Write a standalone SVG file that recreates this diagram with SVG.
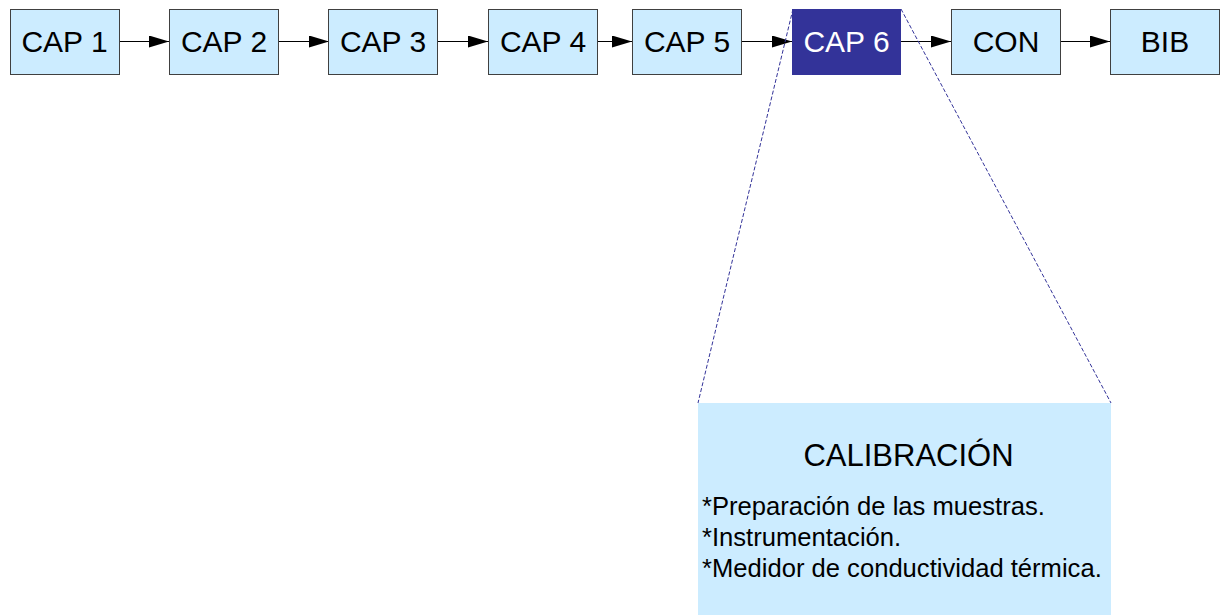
<svg xmlns="http://www.w3.org/2000/svg" width="1220" height="615" viewBox="0 0 1220 615">
<style>
.box{fill:#ccecff;stroke:#404040;stroke-width:1}
.cur{fill:#333399;stroke:none}
.lbl{font-family:"Liberation Sans",Arial,sans-serif;font-size:30px;text-anchor:middle;fill:#000}
.lblw{fill:#fff}
.title{font-family:"Liberation Sans",Arial,sans-serif;font-size:31px;text-anchor:middle;fill:#000}
.conn{stroke:#000;stroke-width:1;fill:none}
.dash{stroke:#333399;stroke-width:1;stroke-dasharray:4 2;fill:none}
.body{font-family:"Liberation Sans",Arial,sans-serif;font-size:25.6px;fill:#000}
</style>
<defs>
<marker id="ah" viewBox="0 0 20 12" refX="20" refY="6" markerWidth="20" markerHeight="12" markerUnits="userSpaceOnUse" orient="auto">
<path d="M0,0 L20,6 L0,12 Z" fill="#000"/>
</marker>
</defs>
<rect width="1220" height="615" fill="#fff"/>
<g id="connectors">
<line class="conn" x1="119" y1="41.5" x2="169" y2="41.5" marker-end="url(#ah)"/>
<line class="conn" x1="278" y1="41.5" x2="329" y2="41.5" marker-end="url(#ah)"/>
<line class="conn" x1="437" y1="41.5" x2="488" y2="41.5" marker-end="url(#ah)"/>
<line class="conn" x1="597" y1="41.5" x2="632" y2="41.5" marker-end="url(#ah)"/>
<line class="conn" x1="741" y1="41.5" x2="792" y2="41.5" marker-end="url(#ah)"/>
<line class="conn" x1="900" y1="41.5" x2="951" y2="41.5" marker-end="url(#ah)"/>
<line class="conn" x1="1060" y1="41.5" x2="1110" y2="41.5" marker-end="url(#ah)"/>
<line class="dash" x1="793" y1="9" x2="698" y2="403"/>
<line class="dash" x1="901" y1="9" x2="1111" y2="403"/>
</g>
<g id="cap1"><rect class="box" x="10.5" y="9.5" width="109" height="65"/><text class="lbl" x="64.5" y="52">CAP 1</text></g>
<g id="cap2"><rect class="box" x="169.5" y="9.5" width="109" height="65"/><text class="lbl" x="224" y="52">CAP 2</text></g>
<g id="cap3"><rect class="box" x="328.5" y="9.5" width="109" height="65"/><text class="lbl" x="383" y="52">CAP 3</text></g>
<g id="cap4"><rect class="box" x="488.5" y="9.5" width="109" height="65"/><text class="lbl" x="543" y="52">CAP 4</text></g>
<g id="cap5"><rect class="box" x="632.5" y="9.5" width="109" height="65"/><text class="lbl" x="687" y="52">CAP 5</text></g>
<g id="cap6"><rect class="cur" x="792" y="9" width="109" height="66"/><text class="lbl lblw" x="846.5" y="52">CAP 6</text></g>
<g id="con"><rect class="box" x="951.5" y="9.5" width="109" height="65"/><text class="lbl" x="1006" y="52">CON</text></g>
<g id="bib"><rect class="box" x="1110.5" y="9.5" width="109" height="65"/><text class="lbl" x="1165" y="52">BIB</text></g>
<g id="detail">
<rect x="698" y="403" width="413" height="212" fill="#ccecff"/>
<text class="title" x="908.5" y="466">CALIBRACIÓN</text>
<text class="body" x="702" y="515">*Preparación de las muestras.</text>
<text class="body" x="702" y="546">*Instrumentación.</text>
<text class="body" x="702" y="577">*Medidor de conductividad térmica.</text>
</g>
</svg>
